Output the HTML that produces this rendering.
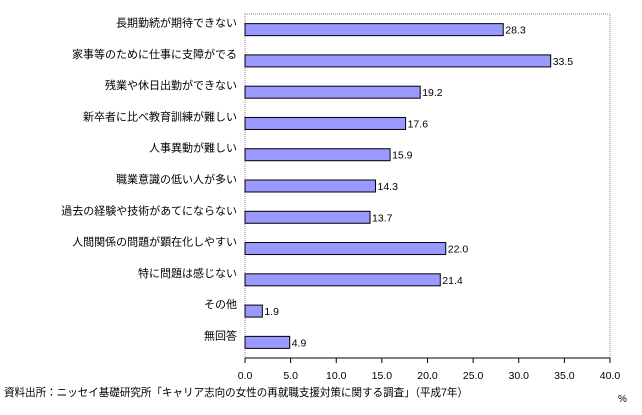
<!DOCTYPE html>
<html><head><meta charset="utf-8"><style>
body{margin:0;background:#fff;}
svg{display:block;font-family:"Liberation Sans","Noto Sans CJK JP",sans-serif;}
</style></head><body>
<svg id="c" width="642" height="415"></svg>
<script>
const categories=["長期勤続が期待できない","家事等のために仕事に支障がでる","残業や休日出勤ができない","新卒者に比べ教育訓練が難しい","人事異動が難しい","職業意識の低い人が多い","過去の経験や技術があてにならない","人間関係の問題が顕在化しやすい","特に問題は感じない","その他","無回答"];
const values=[28.3,33.5,19.2,17.6,15.9,14.3,13.7,22.0,21.4,1.9,4.9];
const ticks=[0,5,10,15,20,25,30,35,40];
const NS="http://www.w3.org/2000/svg";
const svg=document.getElementById('c');
const X0=245,X1=610,YT=14,YB=358,maxV=40;
const x=v=>X0+(X1-X0)*v/maxV;
const rowH=(YB-YT)/categories.length;
const y=i=>YT+rowH*i+rowH/2;
function mk(t,a){const e=document.createElementNS(NS,t);for(const k in a)e.setAttribute(k,a[k]);svg.appendChild(e);return e;}
let f=mk('path',{d:`M${X0} ${YT}H${X1}V${YB}`,fill:'none',stroke:'#888','stroke-dasharray':'1,1'});


let ya=mk('line',{x1:X0,y1:YT,x2:X0,y2:YB,stroke:'#888','stroke-dasharray':'1,1'});


let xa=mk('line',{x1:X0,y1:YB,x2:X1,y2:YB,stroke:'#000'});


ticks.forEach(t=>{
 let l=mk('line',{x1:x(t),y1:YB,x2:x(t),y2:YB+5,stroke:'#000'});
 
 
 let tx=mk('text',{x:x(t),y:YB+21,'font-size':'10.5','text-anchor':'middle'});
 tx.textContent=t.toFixed(1);
 
 
});
categories.forEach((c,i)=>{
 const cy=y(i);
 let r=mk('rect',{x:X0,y:cy-6,width:x(values[i])-X0,height:12,fill:'#9999ff',stroke:'#000','stroke-width':'1'});
 
 
 let v=mk('text',{x:x(values[i])+2,y:cy+4,'font-size':'10.5'});
 v.textContent=values[i].toFixed(1);
 
 
 let lb=mk('text',{x:237,y:cy-3,'font-size':'11','text-anchor':'end'});
 lb.textContent=c;
 
 
});
let u=mk('text',{x:618,y:402,'font-size':'10'});u.textContent='%';


let s=mk('text',{x:4,y:396,'font-size':'11',textLength:'464',lengthAdjust:'spacingAndGlyphs'});s.textContent='資料出所：ニッセイ基礎研究所「キャリア志向の女性の再就職支援対策に関する調査」（平成7年）';


</script>
</body></html>
